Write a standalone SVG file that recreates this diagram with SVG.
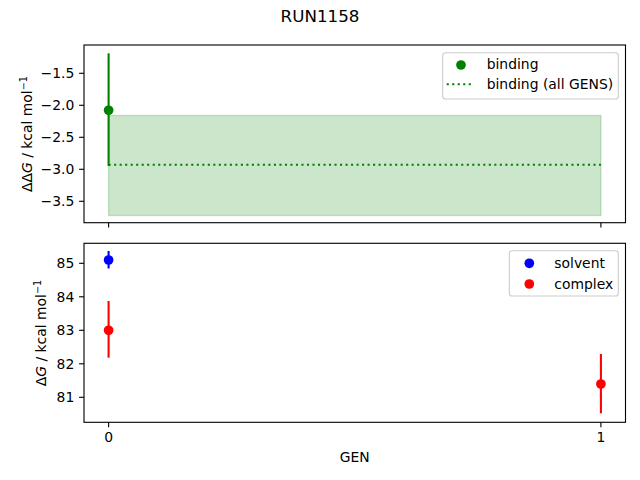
<svg xmlns="http://www.w3.org/2000/svg" width="640" height="480" viewBox="0 0 640 480">
<style>
text{font-family:"DejaVu Sans",sans-serif;font-size:13.9px;fill:#000}
.spine{fill:none;stroke:#000;stroke-width:1.11}
.tick{stroke:#000;stroke-width:1.11}
.yt{text-anchor:end}
.xt{text-anchor:middle}
.leg{fill:#fff;fill-opacity:0.8;stroke:#cccccc;stroke-width:1.1}
.eb{stroke-width:2.08;fill:none}
</style>
<rect width="640" height="480" fill="#fff"/>
<text x="320" y="22.3" text-anchor="middle" style="font-size:16.7px">RUN1158</text>

<g id="top-panel">
  <rect x="108.6" y="115.5" width="492.3" height="100" fill="#008000" fill-opacity="0.2" stroke="#008000" stroke-opacity="0.2" stroke-width="1.39"/>
  <line x1="108.6" y1="164.7" x2="600.9" y2="164.7" stroke="#008000" stroke-width="2.08" stroke-dasharray="2.08,3.43"/>
  <line class="eb" x1="108.6" y1="53.3" x2="108.6" y2="166" stroke="#008000"/>
  <circle cx="108.6" cy="110.3" r="4.85" fill="#008000"/>
  <rect class="spine" x="84" y="45" width="541.5" height="177.7"/>
  <g class="tick">
    <line x1="84" y1="73.3" x2="79.1" y2="73.3"/>
    <line x1="84" y1="105.3" x2="79.1" y2="105.3"/>
    <line x1="84" y1="137.3" x2="79.1" y2="137.3"/>
    <line x1="84" y1="169.3" x2="79.1" y2="169.3"/>
    <line x1="84" y1="201.3" x2="79.1" y2="201.3"/>
    <line x1="108.6" y1="222.7" x2="108.6" y2="227.6"/>
    <line x1="600.9" y1="222.7" x2="600.9" y2="227.6"/>
  </g>
  <text class="yt" x="74.3" y="78.3">−1.5</text>
  <text class="yt" x="74.3" y="110.3">−2.0</text>
  <text class="yt" x="74.3" y="142.3">−2.5</text>
  <text class="yt" x="74.3" y="174.3">−3.0</text>
  <text class="yt" x="74.3" y="206.3">−3.5</text>
  <text transform="translate(32,134) rotate(-90)" text-anchor="middle">ΔΔ<tspan font-style="italic">G</tspan> / kcal mol<tspan font-size="9.7" dy="-5.5">−1</tspan></text>
  <g id="legend-top">
    <rect class="leg" x="442.7" y="52.7" width="175.6" height="46.3" rx="2.8"/>
    <circle cx="461" cy="65" r="4.85" fill="#008000"/>
    <text x="486.7" y="69.2">binding</text>
    <line x1="446.7" y1="84.3" x2="473.3" y2="84.3" stroke="#008000" stroke-width="2.08" stroke-dasharray="2.08,3.43"/>
    <text x="486.7" y="89.4">binding (all GENS)</text>
  </g>
</g>

<g id="bottom-panel">
  <line class="eb" x1="108.6" y1="251" x2="108.6" y2="268.5" stroke="#0000ff"/>
  <circle cx="108.6" cy="260" r="4.85" fill="#0000ff"/>
  <line class="eb" x1="108.6" y1="301" x2="108.6" y2="357.7" stroke="#ff0000"/>
  <circle cx="108.6" cy="330.3" r="4.85" fill="#ff0000"/>
  <line class="eb" x1="600.9" y1="354" x2="600.9" y2="413.3" stroke="#ff0000"/>
  <circle cx="600.9" cy="384" r="4.85" fill="#ff0000"/>
  <rect class="spine" x="84" y="243.3" width="541.5" height="179"/>
  <g class="tick">
    <line x1="84" y1="263.3" x2="79.1" y2="263.3"/>
    <line x1="84" y1="296.8" x2="79.1" y2="296.8"/>
    <line x1="84" y1="330.3" x2="79.1" y2="330.3"/>
    <line x1="84" y1="363.8" x2="79.1" y2="363.8"/>
    <line x1="84" y1="397.3" x2="79.1" y2="397.3"/>
    <line x1="108.6" y1="422.3" x2="108.6" y2="427.2"/>
    <line x1="600.9" y1="422.3" x2="600.9" y2="427.2"/>
  </g>
  <text class="yt" x="74.3" y="268.3">85</text>
  <text class="yt" x="74.3" y="301.8">84</text>
  <text class="yt" x="74.3" y="335.3">83</text>
  <text class="yt" x="74.3" y="368.8">82</text>
  <text class="yt" x="74.3" y="402.3">81</text>
  <text class="xt" x="108.6" y="442">0</text>
  <text class="xt" x="600.9" y="442">1</text>
  <text class="xt" x="354.8" y="462">GEN</text>
  <text transform="translate(46,333) rotate(-90)" text-anchor="middle">Δ<tspan font-style="italic">G</tspan> / kcal mol<tspan font-size="9.7" dy="-5.5">−1</tspan></text>
  <g id="legend-bottom">
    <rect class="leg" x="509.3" y="250.7" width="109" height="45.3" rx="2.8"/>
    <circle cx="529.3" cy="263.3" r="4.85" fill="#0000ff"/>
    <text x="554.3" y="267.8">solvent</text>
    <circle cx="529.3" cy="284" r="4.85" fill="#ff0000"/>
    <text x="554.3" y="288.5">complex</text>
  </g>
</g>
</svg>
